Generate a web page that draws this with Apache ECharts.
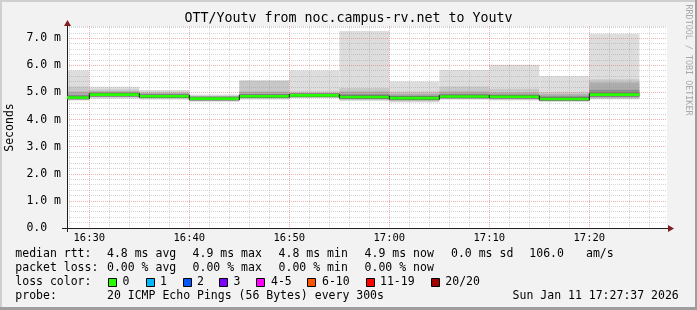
<!DOCTYPE html>
<html><head><meta charset="utf-8">
<script src="https://cdn.jsdelivr.net/npm/echarts@6/dist/echarts.min.js"></script>
<style>html,body{margin:0;padding:0;background:#f2f2f2}#c{width:697px;height:310px}</style>
</head><body><div id="c"></div>
<script>
// ---- data (milliseconds RTT, 5-minute steps, 20 pings each) ----
const stepStarts = ['16:25','16:30','16:35','16:40','16:45','16:50','16:55','17:00','17:05','17:10','17:15','17:20'];
const rttMax    = [5.81, 5.21, 5.09, 4.92, 5.46, 5.81, 7.27, 5.40, 5.83, 6.02, 5.61, 7.16];
const rttHi2    = [5.22, 5.11, 5.03, 4.88, 5.42, 5.04, 5.16, 5.03, 5.22, 5.14, 5.01, 5.49];
const rttHi3    = [5.03, 5.04, 4.98, 4.85, 5.03, 4.98, 5.03, 4.95, 5.03, 5.00, 4.93, 5.37];
const rttHi4    = [4.90, 4.98, 4.92, 4.82, 4.93, 4.93, 4.93, 4.88, 4.94, 4.92, 4.86, 5.10];
const rttMedian = [4.81, 4.92, 4.86, 4.77, 4.86, 4.89, 4.83, 4.79, 4.85, 4.84, 4.76, 4.92];
const rttLo4    = [4.78, 4.88, 4.83, 4.74, 4.83, 4.86, 4.78, 4.74, 4.81, 4.79, 4.72, 4.85];
const rttLo3    = [4.76, 4.84, 4.80, 4.72, 4.80, 4.84, 4.75, 4.70, 4.78, 4.76, 4.70, 4.80];
const rttLo2    = [4.74, 4.81, 4.77, 4.69, 4.77, 4.82, 4.72, 4.67, 4.76, 4.73, 4.68, 4.77];
const rttMin    = [4.70, 4.77, 4.73, 4.66, 4.73, 4.80, 4.68, 4.63, 4.73, 4.70, 4.65, 4.74];
const lossCount = [0, 0, 0, 0, 0, 0, 0, 0, 0, 0, 0, 0];
const yLabelValues = [0, 1, 2, 3, 4, 5, 6, 7];
const xLabelTimes = ['16:30','16:40','16:50','17:00','17:10','17:20'];
const lossLegend = ['0','1','2','3','4-5','6-10','11-19','20/20'];
const lossColors = ['#26ff00','#00b8ff','#0059ff','#7e00ff','#ff00ff','#ff5500','#ff0000','#a10000'];
const axisStart = '16:27:46', axisEnd = '17:27:46';

// ---- helpers ----
function toMs(t){ const p=t.split(':').map(Number); return Date.UTC(2026,0,11,p[0],p[1],p[2]||0); }
const STEP = 5*60000;
const MONO = '"DejaVu Sans Mono", monospace';
const xMin = toMs(axisStart), xMax = toMs(axisEnd);
const gridTicks = [];
for (let t = Math.ceil(xMin/120000)*120000; t <= xMax; t += 120000) gridTicks.push(t);
const minorC = 'rgba(150,150,150,0.4)', majorC = 'rgba(222,79,79,0.45)';
const xSplitColors = gridTicks.map(t => (t % 600000 === 0) ? majorC : minorC);
const bandColors = ['#dddddd','#c8c8c8','#acacac','#8c8c8c'];

const smokeData = stepStarts.map((s,i)=>[toMs(s), toMs(s)+STEP, rttMin[i], rttLo2[i], rttLo3[i], rttLo4[i], rttHi4[i], rttHi3[i], rttHi2[i], rttMax[i]]);
const medData = stepStarts.map((s,i)=>[toMs(s), toMs(s)+STEP, rttMedian[i], lossCount[i], i>0 ? rttMedian[i-1] : rttMedian[i]]);

function clipRect(r, cs){ return echarts.graphic.clipRectByRect(r, {x:cs.x,y:cs.y,width:cs.width,height:cs.height}); }
function lossColorFor(n){ if(n===0) return lossColors[0]; if(n===1) return lossColors[1]; if(n===2) return lossColors[2]; if(n===3) return lossColors[3]; if(n<=5) return lossColors[4]; if(n<=10) return lossColors[5]; if(n<=19) return lossColors[6]; return lossColors[7]; }

// ---- legend / decoration graphics ----
const g = [];
function txt(x,y,s,size,opt){ g.push(Object.assign({type:'text', x:x, y:y, z:10, style:{text:s, font:(size||11.5)+'px '+MONO, fill:'#000', align:'left', verticalAlign:'middle'}}, opt||{})); }
// frame
g.push({type:'rect', shape:{x:0,y:0,width:697,height:2}, style:{fill:'#cfcfcf'}, z:0});
g.push({type:'rect', shape:{x:0,y:0,width:2,height:310}, style:{fill:'#cfcfcf'}, z:0});
g.push({type:'rect', shape:{x:695,y:0,width:2,height:310}, style:{fill:'#9e9e9e'}, z:0});
g.push({type:'rect', shape:{x:0,y:307,width:697,height:3}, style:{fill:'#9e9e9e'}, z:0});
// title
g.push({type:'text', x:348.5, y:18.5, z:10, style:{text:'OTT/Youtv from noc.campus-rv.net to Youtv', font:'13.3px '+MONO, fill:'#000', align:'center', verticalAlign:'middle'}});
// vertical labels
g.push({type:'text', x:10.5, y:127.5, rotation:Math.PI/2, z:10, style:{text:'Seconds', font:'11.5px '+MONO, fill:'#000', align:'center', verticalAlign:'middle'}});
g.push({type:'text', x:688, y:60, rotation:-Math.PI/2, z:10, style:{text:'RRDTOOL / TOBI OETIKER', font:'8.4px '+MONO, fill:'#a8a8a8', align:'center', verticalAlign:'middle'}});
// axis arrows and extensions
g.push({type:'line', shape:{x1:62,y1:228.5,x2:67,y2:228.5}, style:{stroke:'#1f1f1f',lineWidth:1}, z:10});
g.push({type:'line', shape:{x1:67.5,y1:228,x2:67.5,y2:232}, style:{stroke:'#1f1f1f',lineWidth:1}, z:10});
g.push({type:'line', shape:{x1:667,y1:228.5,x2:670,y2:228.5}, style:{stroke:'#1f1f1f',lineWidth:1}, z:10});
g.push({type:'line', shape:{x1:67.5,y1:26,x2:67.5,y2:23}, style:{stroke:'#1f1f1f',lineWidth:1}, z:10});
g.push({type:'polygon', shape:{points:[[668,225],[674,228.5],[668,232]]}, style:{fill:'#801f1f'}, z:10});
g.push({type:'polygon', shape:{points:[[64,26],[67.5,20],[71,26]]}, style:{fill:'#801f1f'}, z:10});
// legend rows
const r1 = 254.3, r2 = 268.3, r3 = 282.3, r4 = 296;
txt(15.3, r1, 'median rtt:'); txt(107, r1, '4.8 ms avg'); txt(192.6, r1, '4.9 ms max'); txt(278.6, r1, '4.8 ms min');
txt(364.6, r1, '4.9 ms now'); txt(451, r1, '0.0 ms sd'); txt(529.3, r1, '106.0'); txt(586, r1, 'am/s');
txt(15.3, r2, 'packet loss:'); txt(107, r2, '0.00 % avg'); txt(192.6, r2, '0.00 % max'); txt(278.6, r2, '0.00 % min'); txt(364.6, r2, '0.00 % now');
txt(15.3, r3, 'loss color:');
const boxX = [108.3,145.7,182.7,219.3,256,307.3,365.7,431];
const labX = [123.3,160.7,197.7,234.3,271.7,322.7,380.7,446];
lossLegend.forEach((l,i)=>{
  g.push({type:'rect', shape:{x:Math.round(boxX[i])+0.5, y:278.5, width:8, height:8}, style:{fill:lossColors[i], stroke:'#000', lineWidth:1}, z:10});
  txt(labX[i]-0.7, r3, l);
});
txt(15.3, r4, 'probe:'); txt(107, r4, '20 ICMP Echo Pings (56 Bytes) every 300s'); txt(512.6, r4, 'Sun Jan 11 17:27:37 2026');

const option = {
  animation:false,
  backgroundColor:'#f2f2f2',
  useUTC:true,
  grid:{left:67, top:26, width:600, height:202, backgroundColor:'#ffffff', show:true, borderWidth:0},
  xAxis:{type:'value', min:xMin, max:xMax, z:3,
    axisLine:{show:true, onZero:false, lineStyle:{color:'#1f1f1f', width:1}},
    axisTick:{show:false, customValues:gridTicks},
    axisLabel:{customValues:xLabelTimes.map(toMs), margin:5, color:'#000', fontFamily:MONO, fontSize:10.5,
      formatter:v=>{const d=new Date(v); return String(d.getUTCHours()).padStart(2,'0')+':'+String(d.getUTCMinutes()).padStart(2,'0');}},
    splitLine:{show:true, lineStyle:{color:xSplitColors, width:1, type:[1,1]}}
  },
  yAxis:{type:'value', min:0, max:7.45, interval:0.2, z:3,
    axisLine:{show:true, lineStyle:{color:'#1f1f1f', width:1}},
    axisTick:{show:false},
    axisLabel:{customValues:yLabelValues, margin:6, color:'#000', fontFamily:MONO, fontSize:11.5,
      formatter:v=> v===0 ? '0.0  ' : v.toFixed(1)+' m'},
    splitLine:{show:true, lineStyle:{color:[majorC,minorC,minorC,minorC,minorC], width:1, type:[1,1]}}
  },
  graphic:g,
  series:[
    {type:'custom', z:2, data:smokeData, encode:{x:[0,1], y:[2,3,4,5,6,7,8,9]}, clip:true,
     renderItem:(params, api)=>{
       const t0=api.value(0), t1=api.value(1), ch=[];
       for(let b=0;b<4;b++){
         const lo=api.value(2+b), hi=api.value(9-b);
         const p0=api.coord([t0,hi]), p1=api.coord([t1,lo]);
         const r=clipRect({x:p0[0],y:p0[1],width:p1[0]-p0[0],height:p1[1]-p0[1]}, params.coordSys);
         if(r) ch.push({type:'rect', shape:r, style:{fill:bandColors[b]}});
       }
       return {type:'group', children:ch};
     }},
    {type:'custom', z:5, data:medData, encode:{x:[0,1], y:[2,4]}, clip:true,
     renderItem:(params, api)=>{
       const t0=api.value(0), t1=api.value(1), m=api.value(2), pm=api.value(4);
       const p0=api.coord([t0, m]), p1=api.coord([t1, m]), pp=api.coord([t0, pm]);
       const cs=params.coordSys, ch=[];
       const dark=clipRect({x:p0[0], y:p0[1]-1.8, width:p1[0]-p0[0], height:3.6}, cs);
       if(dark) ch.push({type:'rect', shape:dark, style:{fill:'#666666'}});
       if(p0[0] >= cs.x){
         const yTop=Math.min(pp[1],p0[1])-1.3, yBot=Math.max(pp[1],p0[1])+1.3;
         ch.push({type:'rect', shape:{x:p0[0]-0.5, y:yTop, width:1, height:yBot-yTop}, style:{fill:'#1a1a1a'}});
       }
       const gr=clipRect({x:p0[0]+0.5, y:p0[1]-1.3, width:p1[0]-p0[0]-0.5, height:2.6}, cs);
       if(gr) ch.push({type:'rect', shape:gr, style:{fill:lossColorFor(api.value(3))}});
       return {type:'group', children:ch};
     }}
  ]
};
echarts.init(document.getElementById('c'), null, {renderer:'canvas'}).setOption(option);
</script></body></html>
